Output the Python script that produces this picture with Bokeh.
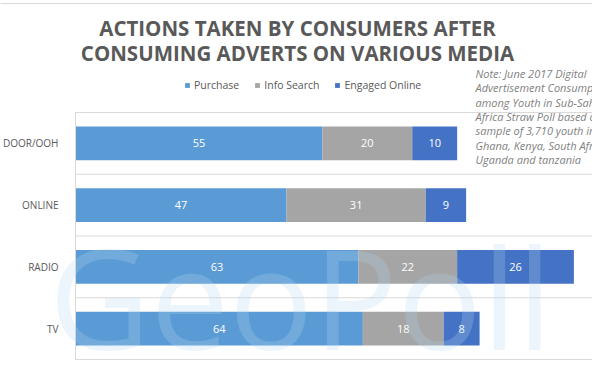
from bokeh.plotting import figure
from bokeh.models import (ColumnDataSource, Range1d, FixedTicker, Label, Legend, LegendItem)
from bokeh.core.properties import value
from bokeh.embed import file_html
from bokeh.resources import INLINE

categories = ["DOOR/OOH", "ONLINE", "RADIO", "TV"]
purchase = [55, 47, 63, 64]
info_search = [20, 31, 22, 18]
engaged_online = [10, 9, 26, 8]
series_names = ["Purchase", "Info Search", "Engaged Online"]
series_colors = ["#5b9bd5", "#a5a5a5", "#4472c4"]
title_lines = ["ACTIONS TAKEN BY CONSUMERS AFTER", "CONSUMING ADVERTS ON VARIOUS MEDIA"]
note_lines = ["Note:  June 2017 Digital", "Advertisement Consumption", "among Youth in Sub-Saharan",
              "Africa Straw Poll based on a", "sample of 3,710 youth in", "Ghana, Kenya, South Africa,",
              "Uganda and tanzania"]
watermark = "GeoPoll"

# ---- layout (pixel geometry of the canvas) ----
W, H = 592, 371
AXIS_X = 75          # x of the value axis origin
BASE_Y = 359         # y of the bottom of the category area
TOP_Y = 112          # y of the top of the category area
PX_PER_UNIT = 4.49   # pixels per value unit
n = len(categories)
PX_PER_BAND = (BASE_Y - TOP_Y) / n


def dx(px):
    return (px - AXIS_X) / PX_PER_UNIT


def dy(py):
    return (BASE_Y - py) / PX_PER_BAND


x_range = Range1d(dx(0), dx(W))
y_range = Range1d(dy(H), dy(0))

ypos = [n - i - 0.5 for i in range(n)]
src = ColumnDataSource(dict(y=ypos, cat=categories, purchase=purchase,
                            info=info_search, engaged=engaged_online))

p = figure(width=W, height=H, x_range=x_range, y_range=y_range,
           output_backend="svg", toolbar_location=None, x_axis_location=None,
           min_border_left=0, min_border_right=0, min_border_top=0, min_border_bottom=0)
p.outline_line_color = None
p.background_fill_color = "white"
p.border_fill_color = "white"
p.title.visible = False
p.xgrid.visible = False
p.ygrid.visible = False

# chart border (top edge)
p.segment(x0=[x_range.start - 5], y0=[dy(3)], x1=[x_range.end + 5], y1=[dy(3)],
          line_color="#d9d9d9", line_width=1)

# category separators
grid_y = list(range(n + 1))
p.segment(x0=[0] * len(grid_y), y0=grid_y, x1=[x_range.end + 5] * len(grid_y), y1=grid_y,
          line_color="#d9d9d9", line_width=1)

renderers = p.hbar_stack(["purchase", "info", "engaged"], y="y", height=0.55,
                         color=series_colors, line_color=None, source=src)

# data labels
cols = [purchase, info_search, engaged_online]
lx, ly, lt = [], [], []
for i in range(n):
    start = 0
    for c in cols:
        v = c[i]
        lx.append(start + v / 2)
        ly.append(ypos[i])
        lt.append(str(v))
        start += v
lsrc = ColumnDataSource(dict(x=lx, y=ly, t=lt))
p.text(x="x", y="y", text="t", source=lsrc, text_color="white", text_align="center",
       text_baseline="middle", text_font_size="11px", text_font=value("Open Sans"))

# category axis
ax = p.yaxis[0]
ax.fixed_location = 0
ax.bounds = (0, n)
ax.ticker = FixedTicker(ticks=ypos)
ax.major_label_overrides = {y: c for y, c in zip(ypos, categories)}
ax.major_tick_line_color = None
ax.minor_tick_line_color = None
ax.axis_line_color = "#d9d9d9"
ax.major_label_standoff = 11
ax.major_label_text_font = "Open Sans"
ax.major_label_text_font_size = "10px"
ax.major_label_text_color = "#595959"

# watermark
p.add_layout(Label(x=dx(300), y=dy(295), text=watermark, text_align="center",
                   text_baseline="alphabetic", text_font="Open Sans", text_font_size="140px",
                   text_color="#b4d7f0", text_alpha=0.25, level="overlay"))

# title
for t, yy in zip(title_lines, [27, 52]):
    p.add_layout(Label(x=dx(297), y=dy(yy), text=t, text_align="center",
                       text_baseline="middle", text_font="Open Sans", text_font_style="bold",
                       text_font_size="20.5px", text_color="#595959"))

# note
for i, t in enumerate(note_lines):
    p.add_layout(Label(x=dx(475), y=dy(73 + i * 14.3), text=t, text_align="left",
                       text_baseline="middle", text_font="Open Sans", text_font_style="italic",
                       text_font_size="11px", text_color="#7f7f7f"))

legend = Legend(items=[LegendItem(label=nm, renderers=[r]) for nm, r in zip(series_names, renderers)],
                orientation="horizontal", location=(184, H - 92),
                glyph_width=6, glyph_height=6, label_height=12,
                label_text_font="Open Sans", label_text_font_size="10.5px",
                label_text_color="#595959", label_standoff=4, spacing=15, padding=0, margin=0,
                border_line_color=None, background_fill_alpha=0)
p.add_layout(legend)

open("out.html", "w").write(file_html(p, INLINE))
